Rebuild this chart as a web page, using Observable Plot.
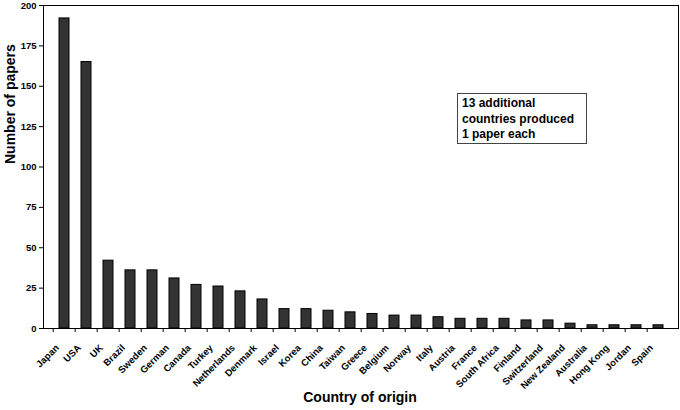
<!DOCTYPE html>
<html>
<head>
<meta charset="utf-8">
<script src="https://cdn.jsdelivr.net/npm/d3@7"></script>
<script src="https://cdn.jsdelivr.net/npm/@observablehq/plot@0.6"></script>
<style>
  html, body { margin: 0; padding: 0; background: #fff; }
  #wrap { position: relative; width: 680px; height: 410px; font-family: "Liberation Sans", Arial, sans-serif; }
  #note {
    position: absolute; left: 457px; top: 93px; width: 124px; height: 47px;
    border: 1px solid #444; background: #fff; padding: 2px 0 0 4px;
    font: bold 12px/15.5px "Liberation Sans", Arial, sans-serif; color: #000;
  }
</style>
</head>
<body>
<div id="wrap"></div>
<script>
const countries = ["Japan","USA","UK","Brazil","Sweden","German","Canada","Turkey","Netherlands","Denmark","Israel","Korea","China","Taiwan","Greece","Belgium","Norway","Italy","Austria","France","South Africa","Finland","Switzerland","New Zealand","Australia","Hong Kong","Jordan","Spain"];
const papers = [192,165,42,36,36,31,27,26,23,18,12,12,11,10,9,8,8,7,6,6,6,5,5,3,2,2,2,2];
const yTicks = [0,25,50,75,100,125,150,175,200];
const noteLines = ["13 additional","countries produced","1 paper each"];
const yLabel = "Number of papers";
const xLabel = "Country of origin";

const data = countries.map((c, i) => ({country: c, papers: papers[i]}));

const W = 680, H = 410;
const mL = 43, mR = 2, mT = 5, mB = 82;
const step = (W - mL - mR) / countries.length;
const font = '"Liberation Sans", Arial, sans-serif';

const chart = Plot.plot({
  width: W, height: H,
  marginLeft: mL, marginRight: mR, marginTop: mT, marginBottom: mB,
  style: {fontFamily: font, background: "#fff", color: "#000", overflow: "visible"},
  x: {domain: countries, paddingInner: 0.56, paddingOuter: 0.28, axis: null},
  y: {domain: [0, 200], axis: null},
  marks: [
    Plot.barY(data, {x: "country", y: "papers", fill: "#333333", stroke: "#000", strokeWidth: 1}),
    Plot.frame({stroke: "#000", strokeWidth: 1}),
    Plot.axisY({ticks: yTicks, tickSize: 4, tickPadding: 3, label: null, fontWeight: "bold", fontSize: 9.5}),
    Plot.axisX({tickSize: 4, tickFormat: () => "", dx: -step / 2, label: null}),
    Plot.text(countries, {x: d => d, frameAnchor: "bottom", rotate: -45, textAnchor: "end", lineAnchor: "bottom",
      dx: -5, dy: 20, fontSize: 9.5, fontWeight: "bold"}),
    Plot.text([yLabel], {frameAnchor: "left", dx: -32.5, dy: -3, rotate: -90, fontSize: 14, fontWeight: "bold"}),
    Plot.text([xLabel], {frameAnchor: "bottom", dy: 73.5, dx: -1, fontSize: 14, fontWeight: "bold"})
  ]
});

const wrap = document.getElementById("wrap");
wrap.appendChild(chart);
const note = document.createElement("div");
note.id = "note";
note.innerHTML = noteLines.join("<br>");
wrap.appendChild(note);
</script>
</body>
</html>
